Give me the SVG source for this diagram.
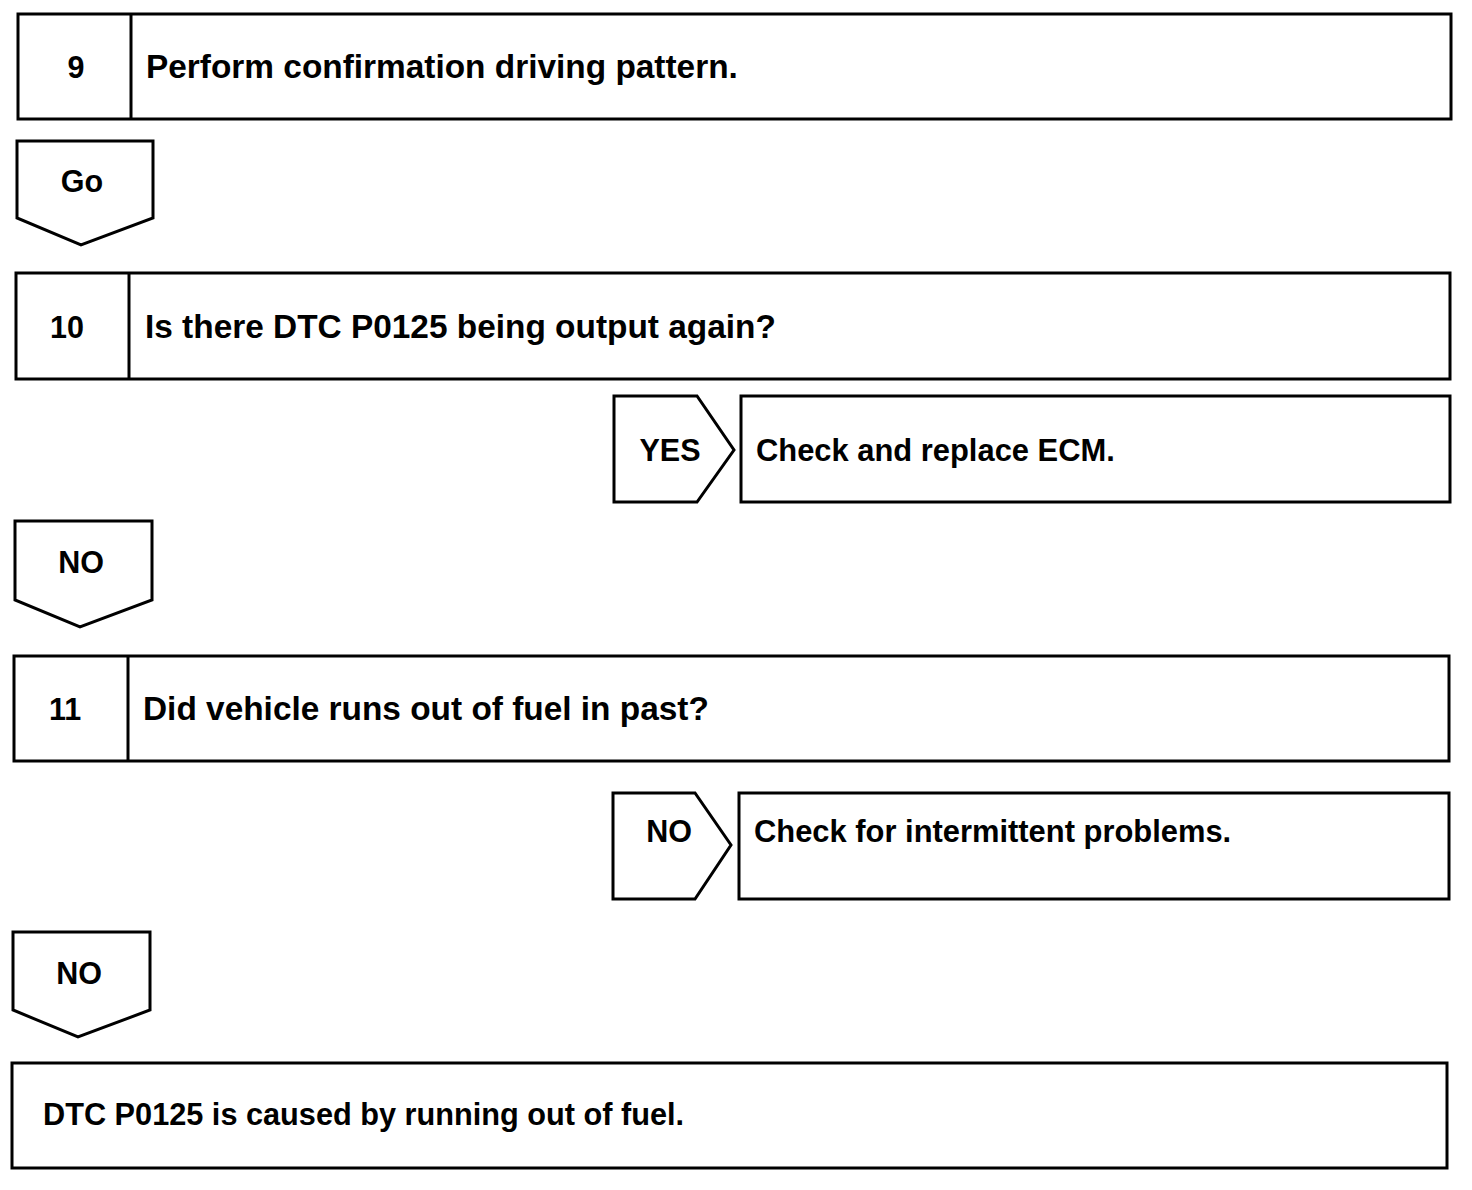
<svg xmlns="http://www.w3.org/2000/svg" width="1472" height="1190" viewBox="0 0 1472 1190">
<style>
.b{fill:#fff;stroke:#000;stroke-width:3}
.t{font-family:"Liberation Sans",Arial,sans-serif;font-weight:bold;font-size:33.4px;fill:#000}
.r{font-family:"Liberation Sans",Arial,sans-serif;font-weight:bold;font-size:30.9px;fill:#000}
.l{font-family:"Liberation Sans",Arial,sans-serif;font-weight:bold;font-size:30.5px;fill:#000}
.s{font-family:"Liberation Sans",Arial,sans-serif;font-weight:bold;font-size:30.7px;fill:#000}
</style>
<rect width="1472" height="1190" fill="#fff"/>
<g id="step9">
<rect class="b" x="18" y="14" width="1433" height="105"/>
<line class="b" x1="131" y1="14" x2="131" y2="119"/>
<text class="l" x="76" y="78" text-anchor="middle">9</text>
<text class="t" x="146" y="78">Perform confirmation driving pattern.</text>
</g>
<g id="step10">
<rect class="b" x="16" y="273" width="1434" height="106"/>
<line class="b" x1="129" y1="273" x2="129" y2="379"/>
<text class="l" x="67" y="338" text-anchor="middle">10</text>
<text class="t" x="145" y="338">Is there DTC P0125 being output again?</text>
</g>
<g id="result-ecm">
<rect class="b" x="741" y="396" width="709" height="106"/>
<text class="r" x="756" y="461">Check and replace ECM.</text>
</g>
<g id="step11">
<rect class="b" x="14" y="656" width="1435" height="105"/>
<line class="b" x1="128" y1="656" x2="128" y2="761"/>
<text class="l" x="65" y="720" text-anchor="middle">11</text>
<text class="t" x="143" y="720">Did vehicle runs out of fuel in past?</text>
</g>
<g id="result-intermittent">
<rect class="b" x="739" y="793" width="710" height="106"/>
<text class="r" x="754" y="842">Check for intermittent problems.</text>
</g>
<g id="result-fuel">
<rect class="b" x="12" y="1063" width="1435" height="105"/>
<text class="s" x="43" y="1125">DTC P0125 is caused by running out of fuel.</text>
</g>
<g id="connectors">
<g id="go">
<path class="b" d="M17,141 H153 V218 L81,245 L17,218 Z"/>
<text class="l" x="82" y="192" text-anchor="middle">Go</text>
</g>
<g id="yes">
<path class="b" d="M614,396 H697 L734,450 L697,502 H614 Z"/>
<text class="l" x="670" y="461" text-anchor="middle">YES</text>
</g>
<g id="no1">
<path class="b" d="M15,521 H152 V600 L80,627 L15,600 Z"/>
<text class="l" x="81" y="573" text-anchor="middle">NO</text>
</g>
<g id="no2">
<path class="b" d="M613,793 H695 L731,845 L695,899 H613 Z"/>
<text class="l" x="669" y="842" text-anchor="middle">NO</text>
</g>
<g id="no3">
<path class="b" d="M13,932 H150 V1010 L78,1037 L13,1010 Z"/>
<text class="l" x="79" y="984" text-anchor="middle">NO</text>
</g>
</g>
</svg>
